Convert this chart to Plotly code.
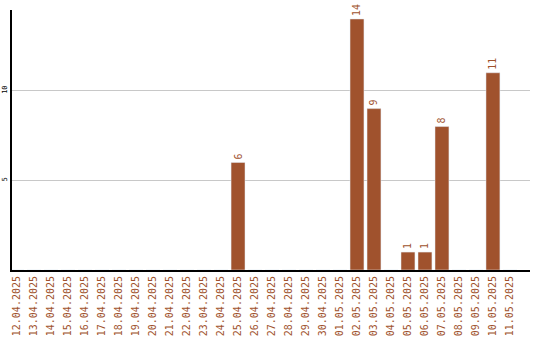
import plotly.graph_objects as go

dates = ["12.04.2025","13.04.2025","14.04.2025","15.04.2025","16.04.2025","17.04.2025",
         "18.04.2025","19.04.2025","20.04.2025","21.04.2025","22.04.2025","23.04.2025",
         "24.04.2025","25.04.2025","26.04.2025","27.04.2025","28.04.2025","29.04.2025",
         "30.04.2025","01.05.2025","02.05.2025","03.05.2025","04.05.2025","05.05.2025",
         "06.05.2025","07.05.2025","08.05.2025","09.05.2025","10.05.2025","11.05.2025"]
values = [0,0,0,0,0,0,0,0,0,0,0,0,0,6,0,0,0,0,0,0,14,9,0,1,1,8,0,0,11,0]

color = "#A0522D"
texts = [str(v) if v else "" for v in values]

fig = go.Figure(go.Bar(
    x=list(range(len(dates))), y=values, marker_color=color, width=0.82,
    text=texts, textposition="outside", textangle=-90, cliponaxis=False,
    textfont=dict(family="DejaVu Sans Mono", size=10, color=color),
))
fig.update_layout(
    width=540, height=340, margin=dict(l=12, r=10, t=10, b=70),
    plot_bgcolor="white", paper_bgcolor="white", showlegend=False,
    xaxis=dict(tickmode="array", tickvals=list(range(len(dates))), ticktext=dates,
               tickangle=-90, range=[-0.3, 30.18], showgrid=False, automargin=False,
               showline=True, linecolor="black", linewidth=2, ticks="",
               tickfont=dict(family="DejaVu Sans Mono", size=10, color=color)),
    yaxis=dict(range=[0, 14.5], tickvals=[5, 10], showgrid=True, gridcolor="#c8c8c8",
               showline=True, linecolor="black", linewidth=2, ticks="", zeroline=False,
               automargin=False, ticklabelstandoff=0,
               tickangle=-90, tickfont=dict(family="DejaVu Sans Mono", size=7, color="black")),
)
fig.write_html("out.html")
